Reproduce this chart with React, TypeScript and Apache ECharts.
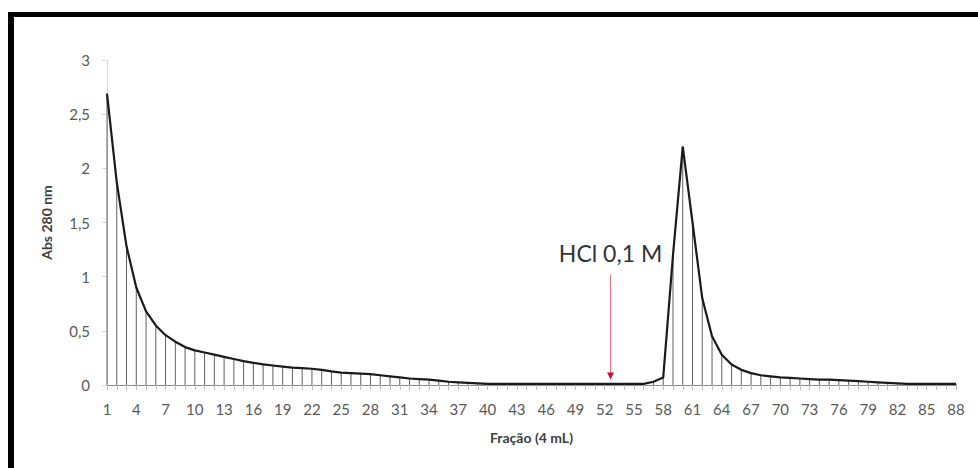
import React, { useEffect, useRef } from "react";
import * as echarts from "echarts";

const FRACTIONS: string[] = [
  "1","2","3","4","5","6","7","8","9","10","11","12","13","14","15","16","17","18","19","20",
  "21","22","23","24","25","26","27","28","29","30","31","32","33","34","35","36","37","38","39","40",
  "41","42","43","44","45","46","47","48","49","50","51","52","53","54","55","56","57","58","59","60",
  "61","62","63","64","65","66","67","68","69","70","71","72","73","74","75","76","77","78","79","80",
  "81","82","83","84","85","86","87","88",
];

const ABS_280: number[] = [
  2.69, 1.87, 1.28, 0.9, 0.68, 0.55, 0.46, 0.4, 0.35, 0.32,
  0.3, 0.28, 0.26, 0.24, 0.22, 0.205, 0.19, 0.18, 0.17, 0.16,
  0.155, 0.15, 0.14, 0.125, 0.115, 0.11, 0.105, 0.1, 0.09, 0.08,
  0.07, 0.06, 0.055, 0.05, 0.04, 0.03, 0.025, 0.02, 0.015, 0.01,
  0.01, 0.01, 0.01, 0.01, 0.01, 0.01, 0.01, 0.01, 0.01, 0.01,
  0.01, 0.01, 0.01, 0.01, 0.01, 0.01, 0.03, 0.07, 1.2, 2.2,
  1.5, 0.8, 0.45, 0.28, 0.19, 0.14, 0.11, 0.09, 0.08, 0.07,
  0.065, 0.06, 0.055, 0.05, 0.05, 0.045, 0.04, 0.035, 0.03, 0.025,
  0.02, 0.015, 0.01, 0.01, 0.01, 0.01, 0.01, 0.01,
];

const Y_TICKS: number[] = [0, 0.5, 1, 1.5, 2, 2.5, 3];

const ANNOTATION_TEXT = "HCl 0,1 M";
const ARROW_FRACTION_INDEX = 51.6; // between fractions 52 and 53
const ARROW_TOP_VALUE = 1.02;
const ARROW_TIP_VALUE = 0.05;
const TEXT_VALUE = 1.22;

const FONT = "Lato, Carlito, Calibri, 'Open Sans', sans-serif";

export default function App() {
  const ref = useRef<HTMLDivElement>(null);

  useEffect(() => {
    if (!ref.current) return;
    const chart = echarts.init(ref.current, null, { renderer: "svg" });
    chart.setOption({
      animation: false,
      backgroundColor: "transparent",
      grid: { left: 107, right: 22, top: 60, bottom: 83, containLabel: false },
      xAxis: {
        type: "category",
        data: FRACTIONS,
        boundaryGap: false,
        name: "Fração (4 mL)",
        nameLocation: "middle",
        nameGap: 45,
        nameTextStyle: { fontFamily: FONT, fontSize: 14, fontWeight: "bold", color: "#404040" },
        axisLine: { lineStyle: { color: "#8c8c8c", width: 1 } },
        axisTick: { show: true, interval: 0, length: 5, lineStyle: { color: "#bfbfbf" } },
        axisLabel: { interval: 2, margin: 16, fontFamily: FONT, fontSize: 15, color: "#595959" },
        splitLine: { show: false },
      },
      yAxis: {
        type: "value",
        min: Y_TICKS[0],
        max: Y_TICKS[Y_TICKS.length - 1],
        interval: 0.5,
        name: "Abs 280 nm",
        nameLocation: "middle",
        nameGap: 54,
        nameRotate: 90,
        nameTextStyle: { fontFamily: FONT, fontSize: 14, fontWeight: "bold", color: "#404040" },
        axisLine: { show: true, lineStyle: { color: "#d9d9d9", width: 1 } },
        axisTick: { show: true, length: 5, lineStyle: { color: "#d9d9d9" } },
        axisLabel: {
          margin: 17,
          fontFamily: FONT,
          fontSize: 15,
          color: "#595959",
          formatter: (v: number) => String(v).replace(".", ","),
        },
        splitLine: { show: false },
      },
      series: [
        {
          type: "custom",
          name: "drop",
          data: ABS_280.map((v, i) => [i, v]),
          encode: { x: 0, y: 1 },
          z: 2,
          renderItem: (params: any, api: any) => {
            const top = api.coord([api.value(0), api.value(1)]);
            const bot = api.coord([api.value(0), 0]);
            return {
              type: "line",
              shape: { x1: top[0], y1: top[1], x2: bot[0], y2: bot[1] },
              style: { stroke: "#5f5f5f", lineWidth: 1 },
            };
          },
        },
        {
          type: "line",
          name: "Abs 280 nm",
          data: ABS_280,
          showSymbol: false,
          symbol: "none",
          z: 3,
          lineStyle: { color: "#1a1a1a", width: 2.2 },
        },
      ],
    });

    const px = (idx: number, val: number) => {
      const i0 = Math.floor(idx);
      const f = idx - i0;
      const a = chart.convertToPixel({ xAxisIndex: 0, yAxisIndex: 0 }, [i0, val]) as number[];
      const b = chart.convertToPixel({ xAxisIndex: 0, yAxisIndex: 0 }, [i0 + 1, val]) as number[];
      return [a[0] + (b[0] - a[0]) * f, a[1]];
    };
    const top = px(ARROW_FRACTION_INDEX, ARROW_TOP_VALUE);
    const tip = px(ARROW_FRACTION_INDEX, ARROW_TIP_VALUE);
    const txt = px(ARROW_FRACTION_INDEX, TEXT_VALUE);

    chart.setOption({
      graphic: [
        {
          type: "line",
          shape: { x1: top[0], y1: top[1], x2: tip[0], y2: tip[1] - 6 },
          style: { stroke: "#e2707f", lineWidth: 1 },
          z: 10,
        },
        {
          type: "polygon",
          shape: {
            points: [
              [tip[0] - 3.5, tip[1] - 7],
              [tip[0] + 3.5, tip[1] - 7],
              [tip[0], tip[1]],
            ],
          },
          style: { fill: "#c8102e" },
          z: 10,
        },
        {
          type: "text",
          x: txt[0],
          y: txt[1],
          style: {
            text: ANNOTATION_TEXT,
            fontFamily: FONT,
            fontSize: 23,
            fill: "#333333",
            align: "center",
            verticalAlign: "middle",
            textAlign: "center",
            textVerticalAlign: "middle",
          },
          z: 10,
        },
      ],
    });

    return () => chart.dispose();
  }, []);

  return (
    <div
      style={{
        position: "fixed",
        left: 0,
        top: 0,
        width: 978,
        height: 468,
        overflow: "hidden",
        background: "#ffffff",
      }}
    >
      <div
        style={{
          position: "absolute",
          left: 8,
          top: 12,
          width: 1000,
          height: 500,
          borderTop: "5px solid #000",
          borderLeft: "6px solid #000",
          boxSizing: "border-box",
        }}
      />
      <div ref={ref} style={{ position: "absolute", left: 0, top: 0, width: 978, height: 468 }} />
    </div>
  );
}
